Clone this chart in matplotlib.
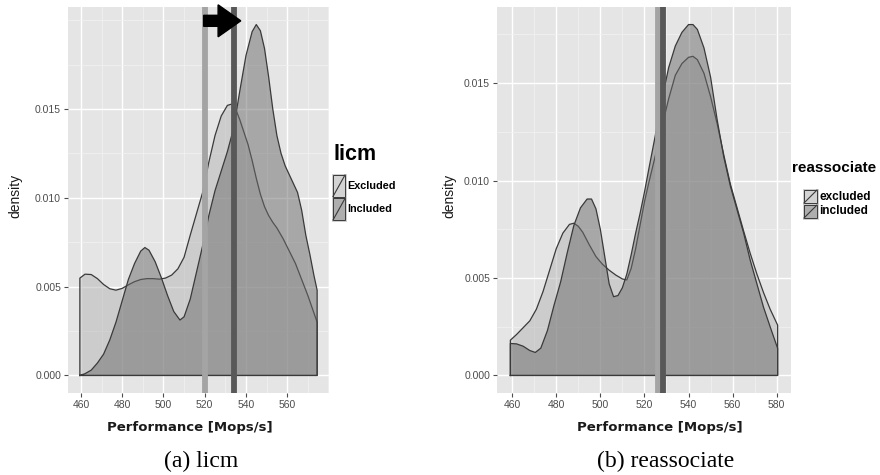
import numpy as np
import matplotlib
matplotlib.use('Agg')
import matplotlib.pyplot as plt
from matplotlib.patches import Rectangle, FancyArrow
from matplotlib.lines import Line2D
from matplotlib.ticker import MultipleLocator, FormatStrFormatter

# ---------------- data: panel (a) licm ----------------
licm_groups = ['Excluded', 'Included']
licm_x_excl = [459.5, 462, 465, 468, 471, 474, 477, 480, 483, 486, 489, 492, 495, 498, 501,
               504, 507, 510, 513, 516, 519, 522, 525, 528, 531, 533, 535, 537, 539, 541, 543,
               545, 547, 549, 551, 553, 555, 558, 561, 564, 567, 570, 573, 574.5]
licm_d_excl = [0.00548, 0.00570, 0.00568, 0.00545, 0.00512, 0.00488, 0.00480, 0.00490, 0.00510,
               0.00528, 0.00540, 0.00545, 0.00545, 0.00542, 0.00548, 0.00565, 0.00600, 0.00665,
               0.00790, 0.00910, 0.01030, 0.01200, 0.01350, 0.01460, 0.01520, 0.01527, 0.01500,
               0.01440, 0.01370, 0.01300, 0.01210, 0.01110, 0.01020, 0.00950, 0.00900, 0.00862,
               0.00830, 0.00770, 0.00700, 0.00630, 0.00540, 0.00450, 0.00350, 0.00300]
licm_x_incl = [459.5, 462, 465, 468, 471, 474, 477, 480, 483, 486, 489, 491, 493, 496, 499, 502,
               505, 508, 510, 513, 516, 519, 522, 525, 528, 531, 534, 537, 540, 543, 545, 547,
               549, 551, 553, 555, 557, 559, 561, 563, 565, 567, 569, 571, 573, 574.5]
licm_d_incl = [0.0, 0.0001, 0.0003, 0.0007, 0.0012, 0.0020, 0.0030, 0.0042, 0.0054, 0.0063,
               0.0070, 0.0072, 0.00705, 0.0064, 0.0055, 0.0045, 0.0036, 0.00312, 0.0033, 0.0043,
               0.0058, 0.0073, 0.0090, 0.0104, 0.0115, 0.0126, 0.0139, 0.0160, 0.0180, 0.01935,
               0.01975, 0.0194, 0.0184, 0.0168, 0.0150, 0.0135, 0.0125, 0.0118, 0.0113, 0.0108,
               0.0103, 0.0093, 0.0079, 0.0068, 0.0056, 0.0048]
licm_means = [520.1, 534.1]          # Excluded, Included
licm_arrow = [519.5, 537.5, 0.01996]  # from, to, height
licm_xticks = [460, 480, 500, 520, 540, 560]

# ---------------- data: panel (b) reassociate ----------------
reas_groups = ['excluded', 'included']
reas_x_excl = [459.2, 462, 465, 468, 471, 474, 477, 480, 483, 486, 488, 490, 492, 495, 498, 501,
               504, 507, 510, 512, 514, 516, 518, 520, 522, 525, 528, 531, 534, 537, 540, 542,
               544, 547, 550, 553, 556, 559, 562, 565, 568, 571, 574, 577, 580.4]
reas_d_excl = [0.00181, 0.00210, 0.00245, 0.00280, 0.00340, 0.00430, 0.00540, 0.00650, 0.00730,
               0.00775, 0.00781, 0.00765, 0.00735, 0.00670, 0.00610, 0.00570, 0.00540, 0.00515,
               0.00495, 0.00490, 0.00550, 0.00650, 0.00770, 0.00890, 0.00990, 0.01130, 0.01280,
               0.01420, 0.01540, 0.01600, 0.01632, 0.01637, 0.01620, 0.01550, 0.01430, 0.01290,
               0.01130, 0.00980, 0.00860, 0.00740, 0.00625, 0.00520, 0.00425, 0.00340, 0.00258]
reas_x_incl = [459.2, 462, 465, 468, 470.5, 473, 476, 479, 482, 485, 488, 491, 494, 496, 498, 500,
               502, 504, 506, 508, 510, 512, 514, 516, 518, 520, 522, 525, 528, 531, 534, 537,
               540, 542, 544, 547, 550, 553, 556, 559, 562, 565, 568, 571, 574, 577, 580.4]
reas_d_incl = [0.00164, 0.00162, 0.00150, 0.00128, 0.00118, 0.00140, 0.00230, 0.00360, 0.00480,
               0.00630, 0.00770, 0.00860, 0.00905, 0.00905, 0.00855, 0.00750, 0.00610, 0.00470,
               0.00404, 0.00410, 0.00450, 0.00520, 0.00620, 0.00730, 0.00830, 0.00940, 0.01060,
               0.01235, 0.01420, 0.01580, 0.01690, 0.01760, 0.01800, 0.01800, 0.01775, 0.01680,
               0.01530, 0.01310, 0.01120, 0.00970, 0.00850, 0.00730, 0.00590, 0.00470, 0.00350,
               0.00250, 0.00139]
reas_means = [526.1, 528.6]
reas_xticks = [460, 480, 500, 520, 540, 560, 580]

yticks = [0.0, 0.005, 0.010, 0.015]

# ---------------- style ----------------
W, H = 880, 475
BG = '#e5e5e5'
FILL = ['#b5b5b5', '#6b6b6b']
EDGE = '#3a3a3a'
VCOL = ['#a4a4a4', '#585858']
TICKC = '#4d4d4d'
SANS = ['Liberation Sans', 'DejaVu Sans']

fig = plt.figure(figsize=(W / 100, H / 100), dpi=100)
fig.patch.set_facecolor('white')


def fbox(x0, y0, x1, y1):
    return [x0 / W, 1 - y1 / H, (x1 - x0) / W, (y1 - y0) / H]


def make_panel(rect, series, means, xticks, xlabel_pos, ylabel_x):
    ax = fig.add_axes(rect)
    ax.set_facecolor(BG)
    for s in ax.spines.values():
        s.set_visible(False)
    allx = np.concatenate([np.asarray(s[0]) for s in series])
    ally = np.concatenate([np.asarray(s[1]) for s in series])
    xr = allx.max() - allx.min()
    ax.set_xlim(allx.min() - 0.05 * xr, allx.max() + 0.05 * xr)
    ax.set_ylim(-0.05 * ally.max(), 1.05 * ally.max())
    for i, (xs, ds) in enumerate(series):
        xs = np.asarray(xs); ds = np.asarray(ds)
        px = np.concatenate([[xs[0]], xs, [xs[-1]]])
        py = np.concatenate([[0.0], ds, [0.0]])
        ax.fill(px, py, facecolor=FILL[i], alpha=0.5, edgecolor='none', zorder=2 + i)
        ax.plot(np.append(px, px[0]), np.append(py, py[0]), color=EDGE, lw=0.9,
                zorder=2.5 + i, solid_joinstyle='round')
    for i, m in enumerate(means):
        ax.axvline(m, color=VCOL[i], lw=4.2, zorder=5 + i)
    ax.set_xticks(xticks)
    ax.xaxis.set_minor_locator(MultipleLocator(10))
    ax.set_yticks(yticks)
    ax.yaxis.set_minor_locator(MultipleLocator(0.0025))
    ax.yaxis.set_major_formatter(FormatStrFormatter('%.3f'))
    ax.grid(which='major', color='white', lw=1.0, zorder=0)
    ax.grid(which='minor', color='#f2f2f2', lw=0.5, zorder=0)
    ax.set_axisbelow(True)
    ax.tick_params(which='major', length=3, width=0.8, color=TICKC, labelcolor=TICKC,
                   labelsize=7.5, pad=2)
    ax.tick_params(which='minor', length=0)
    for lab in ax.get_xticklabels() + ax.get_yticklabels():
        lab.set_family(SANS)
    return ax


# panel (a)
axa = make_panel(fbox(68, 7, 329, 393),
                 [(licm_x_excl, licm_d_excl), (licm_x_incl, licm_d_incl)],
                 licm_means, licm_xticks, None, None)
x0, x1, yy = licm_arrow
axa.add_patch(FancyArrow(x0, yy, x1 - x0, 0, width=0.00062, head_width=0.0018,
                         head_length=11, length_includes_head=True, color='black',
                         clip_on=False, zorder=10))

# panel (b)
axb = make_panel(fbox(497, 7, 791, 393),
                 [(reas_x_excl, reas_d_excl), (reas_x_incl, reas_d_incl)],
                 reas_means, reas_xticks, None, None)

# axis labels
fig.text(190 / W, 1 - 428 / H, 'Performance [Mops/s]', ha='center', va='center',
         fontsize=9.5, fontweight='bold', family='DejaVu Sans', color='#1a1a1a')
fig.text(660 / W, 1 - 428 / H, 'Performance [Mops/s]', ha='center', va='center',
         fontsize=9.5, fontweight='bold', family='DejaVu Sans', color='#1a1a1a')
fig.text(15 / W, 1 - 196 / H, 'density', rotation=90, ha='center', va='center',
         fontsize=10, family=SANS, color='#1a1a1a')
fig.text(449 / W, 1 - 196 / H, 'density', rotation=90, ha='center', va='center',
         fontsize=10, family=SANS, color='#1a1a1a')


# legends
def legend(title, tx, ty, tsize, labels, kx, ky, kw, kh, lsize):
    fig.text(tx / W, 1 - ty / H, title, ha='left', va='center', fontsize=tsize,
             fontweight='bold', family=SANS, color='black')
    for i, lab in enumerate(labels):
        y0 = ky + i * kh
        fig.add_artist(Rectangle((kx / W, 1 - (y0 + kh) / H), kw / W, kh / H,
                                 transform=fig.transFigure, facecolor='#f2f2f2',
                                 edgecolor='#c8c8c8', lw=0.6))
        fig.add_artist(Rectangle(((kx + 1) / W, 1 - (y0 + kh - 1) / H), (kw - 2) / W,
                                 (kh - 2) / H, transform=fig.transFigure,
                                 facecolor=FILL[i], alpha=0.5, edgecolor='none'))
        fig.add_artist(Rectangle(((kx + 1) / W, 1 - (y0 + kh - 1) / H), (kw - 2) / W,
                                 (kh - 2) / H, transform=fig.transFigure,
                                 facecolor='none', edgecolor=EDGE, lw=0.7))
        fig.add_artist(Line2D([(kx + 1) / W, (kx + kw - 1) / W],
                              [1 - (y0 + kh - 1) / H, 1 - (y0 + 1) / H],
                              transform=fig.transFigure, color=EDGE, lw=0.8))
        fig.text((kx + kw + 1.5) / W, 1 - (y0 + kh / 2) / H, lab, ha='left',
                 va='center', fontsize=lsize, fontweight='bold', family=SANS,
                 color='black')


legend('licm', 333, 154, 15.5, licm_groups, 332, 174, 14, 23.5, 7.8)
legend('reassociate', 792, 168, 11, reas_groups, 803, 189, 15, 15, 8.5)

# captions
fig.text(201 / W, 1 - 461 / H, '(a) licm', ha='center', va='center', fontsize=17,
         family='Liberation Serif', color='black')
fig.text(666 / W, 1 - 461 / H, '(b) reassociate', ha='center', va='center', fontsize=17,
         family='Liberation Serif', color='black')

fig.savefig('out.png', dpi=100, facecolor='white')
